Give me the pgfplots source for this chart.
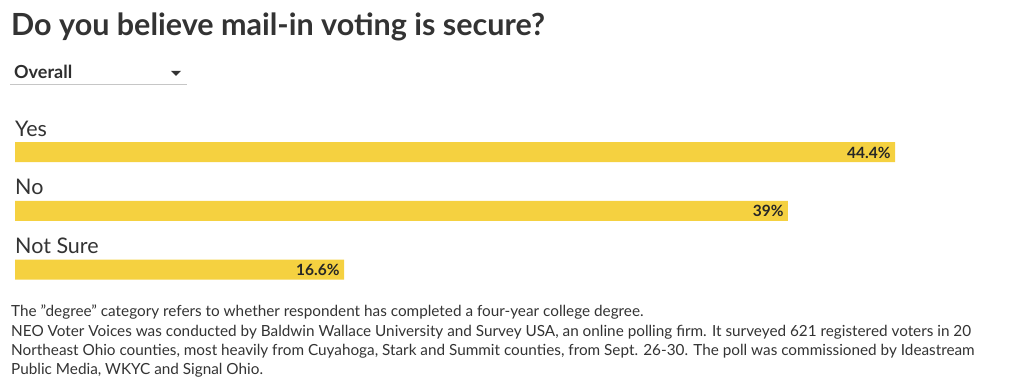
\documentclass[border=0pt]{standalone}
\usepackage{pgfplots}
\pgfplotsset{compat=1.18}
\usepackage{fontspec}
\setmainfont{Lato}
\definecolor{baryellow}{RGB}{245,209,64}
\definecolor{txt}{RGB}{51,51,51}
\begin{document}
\begin{tikzpicture}[x=1pt,y=1pt]
\useasboundingbox (0,0) rectangle (1020,391);
% title
\node[anchor=base west, inner sep=0, text=txt, font=\fontsize{30.5}{34}\selectfont\bfseries] at (11,355) {Do you believe mail-in voting is secure?};
% dropdown
\node[anchor=base west, inner sep=0, text=txt!90!black, font=\fontsize{18}{20}\selectfont\bfseries] at (14,312) {Overall};
\fill[txt] (171,320) -- (181,320) -- (176,315) -- cycle;
\draw[gray!45, line width=1pt] (10,306) -- (187,306);
\begin{axis}[
  at={(15pt,92.1pt)}, anchor=south west,
  scale only axis, width=991pt, height=176.25pt,
  xmin=0, xmax=50, ymin=-0.5, ymax=2.5, y dir=reverse,
  axis lines=none, xbar, bar width=20pt,
  ytick=\empty, xtick=\empty,
  point meta=x,
  nodes near coords={\pgfmathprintnumber[assume math mode=true,fixed,precision=1]{\pgfplotspointmeta}\%},
  nodes near coords style={anchor=east, xshift=-1pt, yshift=-0.5pt, font=\fontsize{15.5}{17}\selectfont\bfseries, text=black!85},
  clip=false,
]
\addplot[fill=baryellow, draw=none] coordinates {(44.4,0) (39,1) (16.6,2)};
\node[anchor=base west, inner sep=0, text=txt, font=\fontsize{21.5}{24}\selectfont] at (axis cs:0,0) [yshift=16pt] {Yes};
\node[anchor=base west, inner sep=0, text=txt, font=\fontsize{21.5}{24}\selectfont] at (axis cs:0,1) [yshift=16pt] {No};
\node[anchor=base west, inner sep=0, text=txt, font=\fontsize{21.5}{24}\selectfont] at (axis cs:0,2) [yshift=16pt] {Not Sure};
\end{axis}
% footnote
\node[anchor=base west, inner sep=0, text=txt, align=left, font=\fontsize{15.3}{19.2}\selectfont] at (11,16.5) {The \symbol{34}degree\symbol{34} category refers to whether respondent has completed a four-year college degree.\\NEO Voter Voices was conducted by Baldwin Wallace University and Survey USA, an online polling firm. It surveyed 621 registered voters in 20\\Northeast Ohio counties, most heavily from Cuyahoga, Stark and Summit counties, from Sept. 26-30. The poll was commissioned by Ideastream\\Public Media, WKYC and Signal Ohio.};
\end{tikzpicture}
\end{document}
